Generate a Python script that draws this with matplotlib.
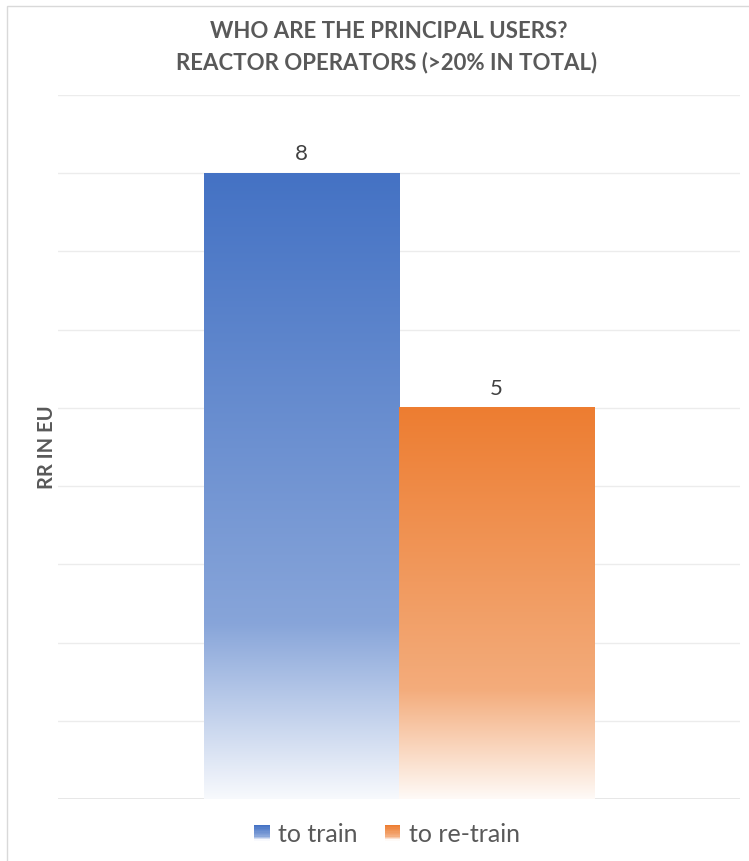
import numpy as np
import matplotlib
matplotlib.use("Agg")
import matplotlib.pyplot as plt
from matplotlib.patches import Rectangle
from matplotlib.legend_handler import HandlerBase
from matplotlib.colors import to_rgb

plt.rcParams['font.family'] = ['Lato', 'DejaVu Sans']

title_lines = ["WHO ARE THE PRINCIPAL USERS?", "REACTOR OPERATORS (>20% IN TOTAL)"]
y_label = "RR IN EU"
series_names = ["to train", "to re-train"]
series_values = [8, 5]
series_colors = ["#4472C4", "#ED7D31"]
y_max = 9

W, H = 749, 861
fig = plt.figure(figsize=(W / 100, H / 100), dpi=100)
# chart frame
fig.patches.append(Rectangle((7 / W, -0.1), 2, 1.1 - 6 / H, transform=fig.transFigure,
                             fill=False, edgecolor="#d9d9d9", linewidth=1.0))

ax = fig.add_axes([58 / W, 1 - 799 / H, (740 - 58) / W, (799 - 95) / H])
ax.set_xlim(-0.5, 0.5)
ax.set_ylim(0, y_max)
for s in ax.spines.values():
    s.set_visible(False)
ax.set_xticks([])
ax.set_yticks(range(0, y_max + 1))
ax.tick_params(axis='y', length=0, labelleft=False)
ax.grid(axis='y', color="#ececec", linewidth=1.0)
ax.set_axisbelow(True)
ax.axhline(0, color="#e3e3e3", linewidth=1.2, zorder=1)


def fade(t, base):
    """t: 0 at bar top, 1 at bar bottom -> white-mix fraction"""
    base = np.array(to_rgb(base))
    f = np.where(t < 0.72, 0.36 * t / 0.72, 0.36 + (0.96 - 0.36) * (t - 0.72) / 0.28)
    return base[None, :] * (1 - f[:, None]) + f[:, None]


width = 0.286
offsets = [-width / 2, width / 2]
for name, val, col, off in zip(series_names, series_values, series_colors, offsets):
    bars = ax.bar([off], [val], width=width, color="none", edgecolor="none", label=name, zorder=2)
    p = bars.patches[0]
    x0, y0 = p.get_x(), p.get_y()
    w, h = p.get_width(), p.get_height()
    t = np.linspace(0, 1, 400)
    img = fade(t, col)[:, None, :]
    ax.imshow(img, extent=[x0, x0 + w, y0, y0 + h], aspect='auto', zorder=2,
              interpolation='bilinear', origin='upper')
    ax.text(off, val + 0.12, str(val), ha='center', va='bottom', fontsize=16, color="#404040")
ax.set_xlim(-0.5, 0.5)
ax.set_ylim(0, y_max)

ax.set_ylabel(y_label, fontsize=14.5, fontweight='bold', color="#595959", labelpad=1)

fig.text(389 / W, 1 - 31 / H, title_lines[0], ha='center', va='center', fontsize=16,
         fontweight='bold', color="#595959")
fig.text(387 / W, 1 - 63 / H, title_lines[1], ha='center', va='center', fontsize=16,
         fontweight='bold', color="#595959")


class GradHandler(HandlerBase):
    def __init__(self, color):
        super().__init__()
        self.color = color

    def create_artists(self, legend, orig_handle, xdescent, ydescent, width, height, fontsize, trans):
        n = 12
        arts = []
        cols = fade(np.linspace(0, 1, n), self.color)
        side = height * 1.0
        x = xdescent + (width - side) / 2
        for i in range(n):
            r = Rectangle((x, side * (n - 1 - i) / n - ydescent), side, side / n + 0.05,
                          facecolor=cols[i], edgecolor='none', transform=trans)
            arts.append(r)
        return arts


handles = [Rectangle((0, 0), 1, 1) for _ in series_names]
leg = fig.legend(handles, series_names, loc='center', bbox_to_anchor=(387 / W, 1 - 834 / H),
                 ncol=2, frameon=False, fontsize=18, handlelength=0.6, handleheight=0.6,
                 handletextpad=0.35, columnspacing=1.1, labelcolor="#595959",
                 handler_map={handles[0]: GradHandler(series_colors[0]),
                              handles[1]: GradHandler(series_colors[1])})

fig.savefig("out.png", dpi=100)
